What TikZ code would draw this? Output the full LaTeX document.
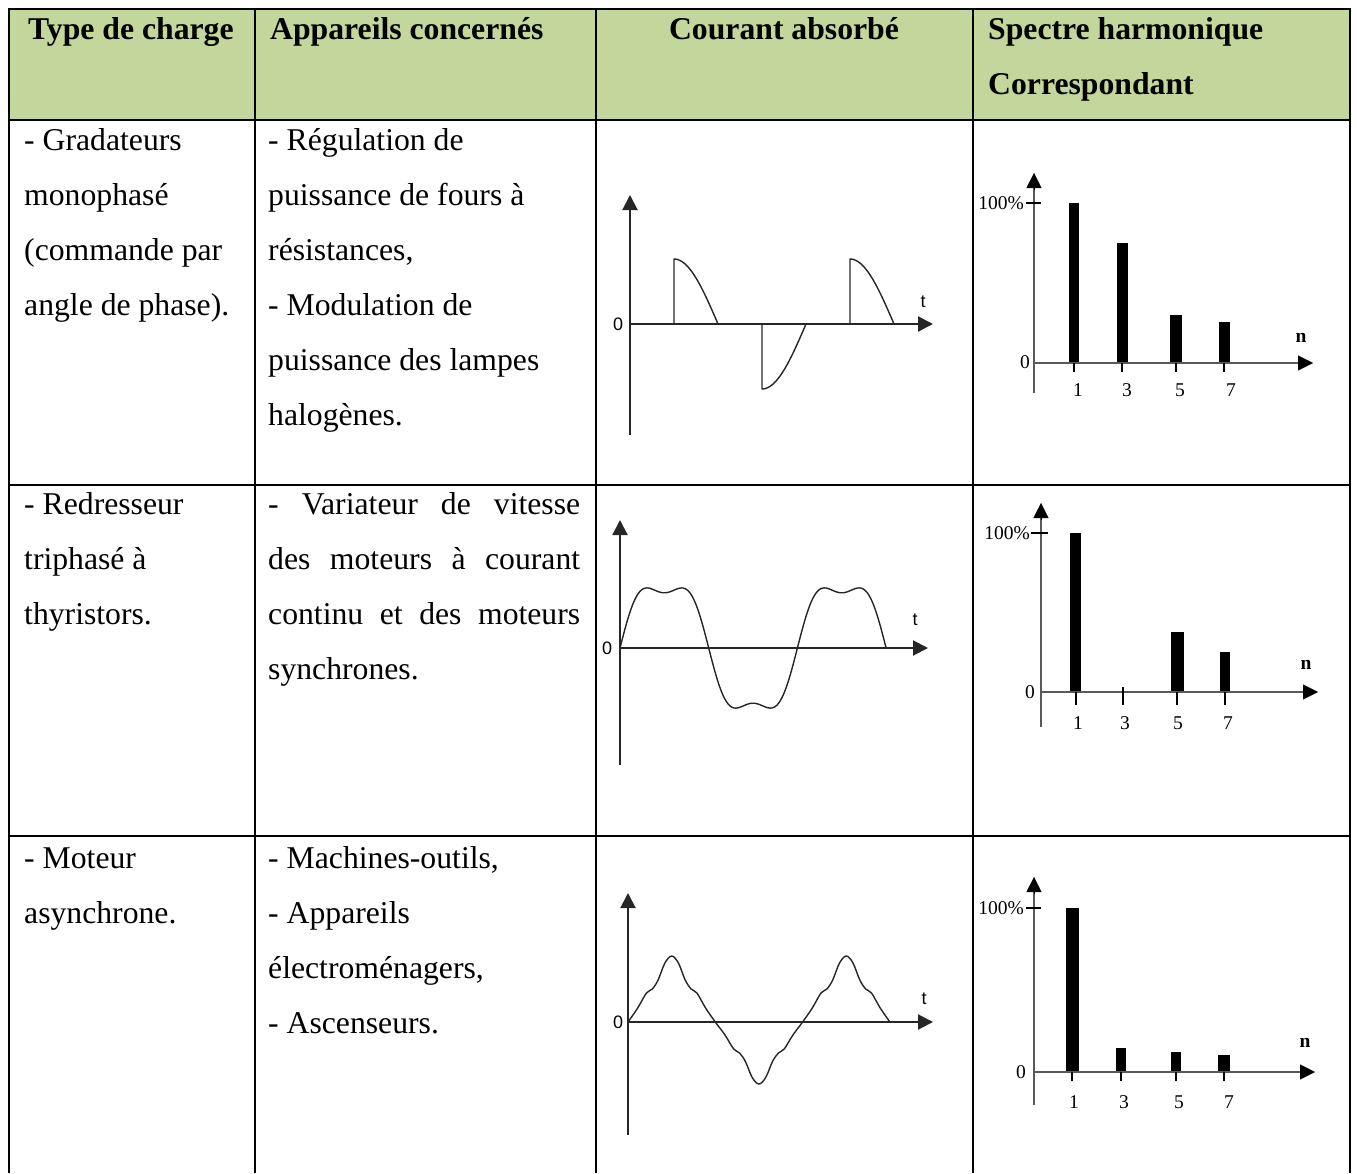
\documentclass[tikz,border=0pt]{standalone}
\usepackage{fontspec}
\setmainfont{Liberation Serif}
\newfontfamily\graphsans{Liberation Sans}
\usetikzlibrary{arrows.meta}
\definecolor{headgreen}{HTML}{C3D69B}
\begin{document}
\begin{tikzpicture}[x=1pt,y=-1pt,
  grid/.style={line width=2pt,black},
  txt/.style={anchor=base west,inner sep=0pt,font=\fontsize{31.7}{38}\selectfont},
  htxt/.style={anchor=base west,inner sep=0pt,font=\fontsize{31.7}{38}\selectfont\bfseries},
  axis/.style={line width=2pt,black!85},
  axtip/.style={-{Triangle[length=15pt,width=15pt]}},
  saxis/.style={line width=2.5pt,black!65},
  wave/.style={line width=1.4pt,black!85,line join=round},
  bar/.style={fill=black,draw=none},
  tlab/.style={inner sep=0pt,font=\graphsans\fontsize{18}{20}\selectfont},
  slab/.style={inner sep=0pt,font=\fontsize{19.5}{21}\selectfont},
  stick/.style={line width=2pt,black}]
\useasboundingbox (0,0) rectangle (1357,1173);
% header background
\fill[headgreen] (8.5,8.5) rectangle (1350,119.5);
% grid
\draw[grid] (8.5,1173) -- (8.5,8.5) -- (1350,8.5) -- (1350,1173);
\draw[grid] (8.5,119.5) -- (1350,119.5);
\draw[grid] (8.5,484.5) -- (1350,484.5);
\draw[grid] (8.5,836) -- (1350,836);
\draw[grid] (255,8.5) -- (255,1173);
\draw[grid] (595.5,8.5) -- (595.5,1173);
\draw[grid] (973,8.5) -- (973,1173);

% header text
\node[htxt] (h1) at (28,39) {Type de charge};
\node[htxt] (h2) at (270,39) {Appareils concernés};
\node[htxt,anchor=base] (h3) at (784,39) {Courant absorbé};
\node[htxt] (h4a) at (988,39) {Spectre harmonique};
\node[htxt] (h4b) at (988,94) {Correspondant};

% row 1 text
\node[txt] (a1) at (24,150) {- Gradateurs};
\node[txt] (a2) at (24,205) {monophasé};
\node[txt] (a3) at (24,260) {(commande par};
\node[txt] (a4) at (24,315) {angle de phase).};
\node[txt] (b1) at (268,150) {- Régulation de};
\node[txt] (b2) at (268,205) {puissance de fours à};
\node[txt] (b3) at (268,260) {résistances,};
\node[txt] (b4) at (268,315) {- Modulation de};
\node[txt] (b5) at (268,370) {puissance des lampes};
\node[txt] (b6) at (268,425) {halogènes.};

% row 2 text
\node[txt] (c1) at (24,514) {- Redresseur};
\node[txt] (c2) at (24,569) {triphasé à};
\node[txt] (c3) at (24,624) {thyristors.};
\node[txt] (d1) at (268,514) {\makebox[312pt][s]{- Variateur de vitesse}};
\node[txt] (d2) at (268,569) {\makebox[312pt][s]{des moteurs à courant}};
\node[txt] (d3) at (268,624) {\makebox[312pt][s]{continu et des moteurs}};
\node[txt] (d4) at (268,679) {synchrones.};

% row 3 text
\node[txt] (e1) at (24,868) {- Moteur};
\node[txt] (e2) at (24,923) {asynchrone.};
\node[txt] (f1) at (268,868) {- Machines-outils,};
\node[txt] (f2) at (268,923) {- Appareils};
\node[txt] (f3) at (268,978) {électroménagers,};
\node[txt] (f4) at (268,1033) {- Ascenseurs.};

% ---------- current graph 1 ----------
\draw[axis,axtip] (630,435) -- (630,195);
\draw[axis,axtip] (630,324) -- (933,324);
\node[tlab] (z1) at (618,324) {0};
\node[tlab] (t1) at (923,302) {t};
\draw[wave] (674,324) -- plot[domain=90:180,samples=40] ({630+\x/180*88},{324-65*sin(\x)});
\draw[wave] (762,324) -- plot[domain=270:360,samples=40] ({630+\x/180*88},{324-65*sin(\x)});
\draw[wave] (850,324) -- plot[domain=450:540,samples=40] ({630+\x/180*88},{324-65*sin(\x)});

% ---------- current graph 2 ----------
\draw[axis,axtip] (620,765) -- (620,520);
\draw[axis,axtip] (620,648) -- (928,648);
\node[tlab] (z2) at (607,648) {0};
\node[tlab] (t2) at (915,620) {t};
\draw[wave] plot[domain=0:540,samples=220] ({620+\x/180*88.7},{648-69*(sin(\x)+0.2*sin(3*\x))});

% ---------- current graph 3 ----------
\draw[axis,axtip] (628,1135) -- (628,893);
\draw[axis,axtip] (628,1022) -- (933,1022);
\node[tlab] (z3) at (618,1022) {0};
\node[tlab] (t3) at (924,999) {t};
\draw[wave] plot[smooth,tension=0.55] coordinates {
 (628,1022) (637.7,1008) (646.4,993) (652.3,989) (658.1,980) (664.9,963) (671.7,956)
 (678.4,963) (685.2,980) (691.1,989) (696.9,993) (705.6,1008) (715.3,1022)
 (725.0,1035) (733.7,1049) (739.6,1053) (745.4,1061.5) (752.2,1077.5) (759.0,1084)
 (765.7,1077.5) (772.5,1061.5) (778.4,1053) (784.2,1049) (792.9,1035) (802.6,1022)
 (812.3,1008) (821.0,993) (826.9,989) (832.7,980) (839.5,963) (846.3,956)
 (853.0,963) (859.8,980) (865.7,989) (871.5,993) (880.2,1008) (889.9,1022)};

% ---------- spectrum 1 ----------
\fill[bar] (1069,203) rectangle (1079,363);
\fill[bar] (1117,243) rectangle (1128,363);
\fill[bar] (1170,315) rectangle (1182,363);
\fill[bar] (1219,322) rectangle (1230,363);
\draw[saxis] (1034,393) -- (1034,180);
\draw[black,-{Triangle[length=15pt,width=15pt]}] (1034,190) -- (1034,173);
\draw[saxis] (1034,363) -- (1302,363);
\draw[black,-{Triangle[length=15pt,width=15pt]}] (1298,363) -- (1313,363);
\draw[stick] (1026,203) -- (1041,203);
\foreach \p in {1074,1122,1176,1224} \draw[stick] (\p,363) -- (\p,372);
\node[slab,anchor=east] (p1) at (1024,203) {100\%};
\node[slab] (o1) at (1025,362) {0};
\node[slab] (n11) at (1078,390) {1};
\node[slab] (n13) at (1127,390) {3};
\node[slab] (n15) at (1180,390) {5};
\node[slab] (n17) at (1231,390) {7};
\node[slab,font=\fontsize{19.5}{21}\selectfont\bfseries] (nn1) at (1301,338) {n};

% ---------- spectrum 2 ----------
\fill[bar] (1070,533) rectangle (1081,692);
\fill[bar] (1171,632) rectangle (1184,692);
\fill[bar] (1220,652) rectangle (1230,692);
\draw[saxis] (1041,727) -- (1041,510);
\draw[black,-{Triangle[length=15pt,width=15pt]}] (1041,520) -- (1041,503);
\draw[saxis] (1041,692) -- (1306,692);
\draw[black,-{Triangle[length=15pt,width=15pt]}] (1303,692) -- (1318,692);
\draw[stick] (1031,533) -- (1048,533);
\draw[stick] (1076,692) -- (1076,705);
\draw[stick] (1123,687) -- (1123,705);
\draw[stick] (1177,692) -- (1177,705);
\draw[stick] (1225,692) -- (1225,705);
\node[slab,anchor=east] (p2) at (1030,533) {100\%};
\node[slab] (o2) at (1030,692) {0};
\node[slab] (n21) at (1078,723) {1};
\node[slab] (n23) at (1125,723) {3};
\node[slab] (n25) at (1178,723) {5};
\node[slab] (n27) at (1228,723) {7};
\node[slab,font=\fontsize{19.5}{21}\selectfont\bfseries] (nn2) at (1306,665) {n};

% ---------- spectrum 3 ----------
\fill[bar] (1066,908) rectangle (1079,1072);
\fill[bar] (1116,1048) rectangle (1126,1072);
\fill[bar] (1171,1052) rectangle (1181,1072);
\fill[bar] (1218,1055) rectangle (1230,1072);
\draw[saxis] (1034,1105) -- (1034,885);
\draw[black,-{Triangle[length=15pt,width=15pt]}] (1034,894) -- (1034,877);
\draw[saxis] (1034,1072) -- (1303,1072);
\draw[black,-{Triangle[length=15pt,width=15pt]}] (1300,1072) -- (1315,1072);
\draw[stick] (1026,908) -- (1041,908);
\foreach \p in {1072,1121,1176,1224} \draw[stick] (\p,1072) -- (\p,1081);
\node[slab,anchor=east] (p3) at (1024,908) {100\%};
\node[slab] (o3) at (1021,1072) {0};
\node[slab] (n31) at (1074,1102) {1};
\node[slab] (n33) at (1124,1102) {3};
\node[slab] (n35) at (1179,1102) {5};
\node[slab] (n37) at (1229,1102) {7};
\node[slab,font=\fontsize{19.5}{21}\selectfont\bfseries] (nn3) at (1305,1043) {n};
\end{tikzpicture}
\end{document}
